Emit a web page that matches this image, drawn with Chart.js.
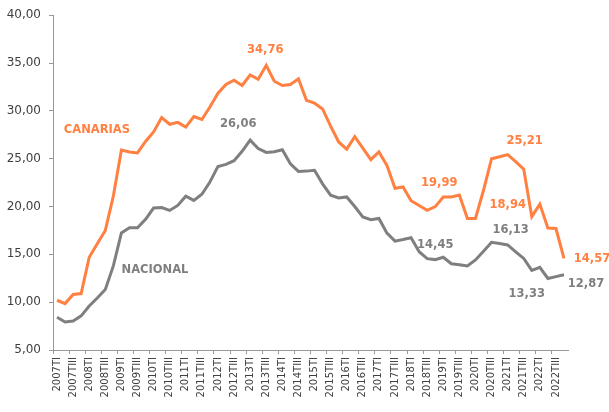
<!DOCTYPE html>
<html>
<head>
<meta charset="utf-8">
<script src="https://cdn.jsdelivr.net/npm/chart.js@4.4.0/dist/chart.umd.min.js"></script>
<style>
  html, body { margin: 0; padding: 0; background: #ffffff; }
  #wrap { width: 609px; height: 412px; position: relative; }
</style>
</head>
<body>
<div id="wrap"><canvas id="c" width="609" height="412"></canvas></div>
<script>
// ---- data ----
const years = [2007,2008,2009,2010,2011,2012,2013,2014,2015,2016,2017,2018,2019,2020,2021,2022];
const quarters = ["TI","TII","TIII","TIV"];
const categories = [];
years.forEach(y => quarters.forEach(q => categories.push(y + q)));

const canarias = [
  10.20, 9.85, 10.80, 10.90,
  14.70, 16.10, 17.50, 21.10,
  25.90, 25.70, 25.60, 26.80,
  27.80, 29.30, 28.60, 28.80,
  28.30, 29.40, 29.10, 30.40,
  31.85, 32.75, 33.20, 32.65,
  33.75, 33.30, 34.76, 33.10,
  32.65, 32.75, 33.35, 31.10,
  30.80, 30.20, 28.40, 26.75,
  26.00, 27.30, 26.10, 24.90,
  25.70, 24.30, 21.90, 22.05,
  20.60, 20.10, 19.60, 19.99,
  21.00, 21.00, 21.20, 18.75,
  18.75, 21.70, 25.00, 25.21,
  25.42, 24.70, 23.90, 18.94,
  20.25, 17.75, 17.70, 14.57
];
const nacional = [
  8.42, 7.93, 8.03, 8.57,
  9.60, 10.44, 11.33, 13.79,
  17.24, 17.77, 17.77, 18.66,
  19.84, 19.89, 19.59, 20.11,
  21.08, 20.64, 21.28, 22.56,
  24.19, 24.40, 24.79, 25.77,
  26.94, 26.06, 25.65, 25.73,
  25.93, 24.47, 23.67, 23.70,
  23.78, 22.37, 21.18, 20.90,
  21.00, 20.00, 18.91, 18.63,
  18.75, 17.22, 16.38, 16.55,
  16.74, 15.28, 14.55, 14.45,
  14.70, 14.02, 13.92, 13.78,
  14.41, 15.33, 16.26, 16.13,
  15.98, 15.26, 14.57, 13.33,
  13.65, 12.48, 12.67, 12.87
];
const seriesNames = ["CANARIAS", "NACIONAL"];
const yMin = 5, yMax = 40, yStep = 5;

// text annotations: [text, dataset index, data index, dx, dy]
const annotations = [
  ["CANARIAS", 0, 8, -24.5, -20],
  ["NACIONAL", 1, 10, 17.5, 42],
  ["34,76", 0, 26, -1, -15],
  ["26,06", 1, 25, -20, -25],
  ["19,99", 0, 47, 4, -24],
  ["25,21", 0, 55, 25, -16],
  ["18,94", 0, 59, -24, -12],
  ["16,13", 1, 56, 3, -15],
  ["14,45", 1, 47, 0, -15],
  ["13,33", 1, 59, -5, 24],
  ["14,57", 0, 63, 28, 1],
  ["12,87", 1, 63, 22, 9]
];

const ORANGE = "#FF8040";
const GREY = "#7F7F7F";
const seriesColors = [ORANGE, GREY];
const FONT = "'DejaVu Sans', Verdana, sans-serif";

const labelPlugin = {
  id: "labels",
  afterDatasetsDraw(chart) {
    const ctx = chart.ctx;
    ctx.save();
    ctx.font = "bold 11.5px " + FONT;
    ctx.textAlign = "center";
    ctx.textBaseline = "middle";
    annotations.forEach(([text, ds, idx, dx, dy]) => {
      const pt = chart.getDatasetMeta(ds).data[idx];
      ctx.fillStyle = seriesColors[ds];
      ctx.fillText(text, pt.x + dx, pt.y + dy);
    });
    ctx.restore();
  }
};

new Chart(document.getElementById("c"), {
  type: "line",
  data: {
    labels: categories,
    datasets: [
      { label: seriesNames[0], data: canarias, borderColor: ORANGE, borderWidth: 3, pointRadius: 0, tension: 0, fill: false },
      { label: seriesNames[1], data: nacional, borderColor: GREY, borderWidth: 3, pointRadius: 0, tension: 0, fill: false }
    ]
  },
  options: {
    responsive: false,
    animation: false,
    devicePixelRatio: 1,
    layout: { padding: { top: 14, right: 41, bottom: 0, left: 0 } },
    plugins: { legend: { display: false }, tooltip: { enabled: false } },
    scales: {
      x: {
        type: "category",
        offset: true,
        border: { display: true, color: "#999999", width: 1 },
        grid: {
          offset: true,
          drawOnChartArea: false,
          drawTicks: true,
          tickLength: 4,
          color: (c) => (c.index % 2 === 0 ? "#999999" : "rgba(0,0,0,0)")
        },
        ticks: {
          autoSkip: false,
          maxRotation: 90,
          minRotation: 90,
          padding: 3,
          color: "#404040",
          font: { family: FONT, size: 10 },
          callback: function(v, i) { return i % 2 === 0 ? this.getLabelForValue(v) : ""; }
        },
        afterFit: (s) => { s.height = 62; }
      },
      y: {
        min: yMin,
        max: yMax,
        border: { display: true, color: "#999999", width: 1 },
        grid: { drawOnChartArea: false, drawTicks: true, tickLength: 4, color: "#999999" },
        ticks: {
          stepSize: yStep,
          padding: 8,
          color: "#404040",
          font: { family: FONT, size: 12 },
          callback: (v) => v.toFixed(2).replace(".", ",")
        },
        afterFit: (s) => { s.width = 53; }
      }
    }
  },
  plugins: [labelPlugin]
});
</script>
</body>
</html>
